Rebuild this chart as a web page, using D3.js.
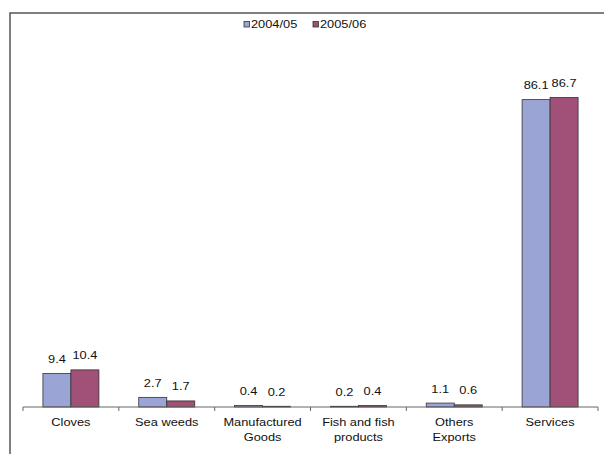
<!DOCTYPE html>
<html>
<head>
<meta charset="utf-8">
<script src="https://cdn.jsdelivr.net/npm/d3@7"></script>
<style>
  html, body { margin: 0; padding: 0; background: #fff; }
  svg { display: block; }
  text { font-family: Arial, "Liberation Sans", sans-serif; fill: #111; }
</style>
</head>
<body>
<svg id="chart" width="604" height="454"></svg>
<script>
// Export shares by category, two fiscal years
const categories = [["Cloves"], ["Sea weeds"], ["Manufactured", "Goods"], ["Fish and fish", "products"], ["Others", "Exports"], ["Services"]];
const seriesNames = ["2004/05", "2005/06"];
const values2004 = [9.4, 2.7, 0.4, 0.2, 1.1, 86.1];
const values2005 = [10.4, 1.7, 0.2, 0.4, 0.6, 86.7];
const seriesColors = ["#9BA5D5", "#A15077"];

const svg = d3.select("#chart");
const W = 604, H = 454;
const stretch = 1.22;   // wide, horizontally scaled lettering
const fontSize = 10.5;

svg.append("rect").attr("width", W).attr("height", H).attr("fill", "#fff");

// outer frame (top and left edges visible)
svg.append("path")
  .attr("d", `M10,${H + 2} L10,13 L${W + 2},13`)
  .attr("fill", "none").attr("stroke", "#555").attr("stroke-width", 1.5);

const catKeys = categories.map(c => c.join(" "));
const x0 = d3.scaleBand().domain(catKeys).range([23, 598]).paddingInner(0.4157).paddingOuter(0.4157 / 2);
const x1 = d3.scaleBand().domain(seriesNames).range([0, x0.bandwidth()]);
const y = d3.scaleLinear().domain([0, 100]).range([407, 50]);

const series = [values2004, values2005];

// bars
const groups = svg.append("g").selectAll("g")
  .data(catKeys)
  .join("g")
  .attr("transform", d => `translate(${x0(d)},0)`);

groups.selectAll("rect")
  .data((d, i) => seriesNames.map((s, j) => ({ s, v: series[j][i], c: seriesColors[j] })))
  .join("rect")
  .attr("x", d => x1(d.s))
  .attr("y", d => y(d.v))
  .attr("width", x1.bandwidth())
  .attr("height", d => y(0) - y(d.v))
  .attr("fill", d => d.c)
  .attr("stroke", "#333")
  .attr("stroke-width", 0.8);

// value labels
groups.selectAll("text")
  .data((d, i) => seriesNames.map((s, j) => ({ s, v: series[j][i] })))
  .join("text")
  .attr("transform", d => `translate(${x1(d.s) + x1.bandwidth() / 2},${y(d.v) - 10.5}) scale(${stretch},1)`)
  .attr("text-anchor", "middle")
  .attr("font-size", fontSize)
  .text(d => d.v.toFixed(1));

// category axis
const step = x0.step();
const edges = catKeys.map(k => x0(k) - (step - x0.bandwidth()) / 2);
edges.push(598);
const axis = svg.append("g");
axis.append("line").attr("x1", 23).attr("x2", 598).attr("y1", 407).attr("y2", 407)
  .attr("stroke", "#666").attr("stroke-width", 1);
axis.selectAll("line.tick").data(edges).join("line").attr("class", "tick")
  .attr("x1", d => d).attr("x2", d => d).attr("y1", 407).attr("y2", 411)
  .attr("stroke", "#666").attr("stroke-width", 1);

const catLabels = axis.selectAll("text.cat").data(categories).join("text")
  .attr("class", "cat")
  .attr("text-anchor", "middle")
  .attr("font-size", fontSize)
  .attr("transform", (d, i) => `translate(${x0(catKeys[i]) + x0.bandwidth() / 2},426) scale(${stretch},1)`);
catLabels.selectAll("tspan").data(d => d).join("tspan")
  .attr("x", 0).attr("dy", (d, i) => i === 0 ? 0 : 15)
  .text(d => d);

// legend
const legendItems = [{ x: 244, name: seriesNames[0], c: seriesColors[0] }, { x: 313, name: seriesNames[1], c: seriesColors[1] }];
const legend = svg.append("g");
legendItems.forEach(it => {
  legend.append("rect").attr("x", it.x).attr("y", 21.5).attr("width", 5.5).attr("height", 5.5)
    .attr("fill", it.c).attr("stroke", "#333").attr("stroke-width", 0.8);
  legend.append("text")
    .attr("transform", `translate(${it.x + 7},28) scale(${stretch},1)`)
    .attr("font-size", fontSize)
    .text(it.name);
});
</script>
</body>
</html>
